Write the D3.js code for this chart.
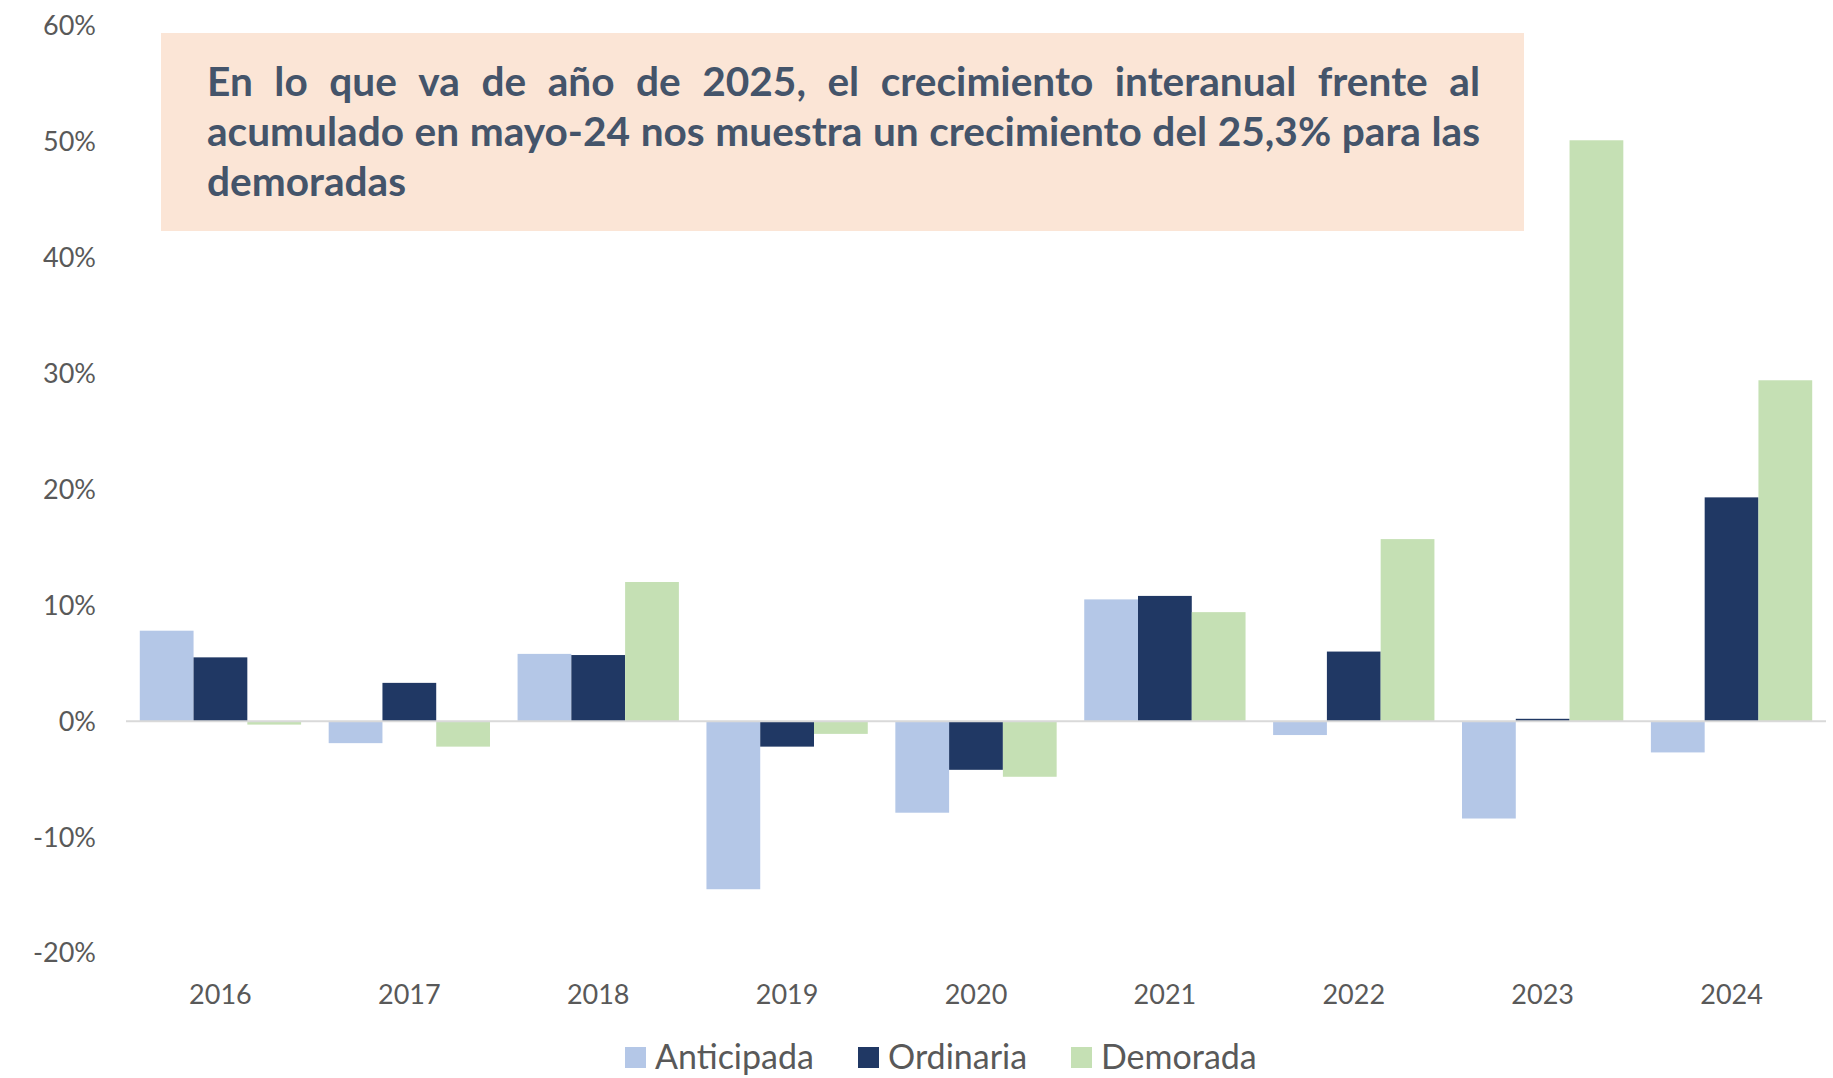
<!DOCTYPE html>
<html>
<head>
<meta charset="utf-8">
<script src="https://cdn.jsdelivr.net/npm/d3@7"></script>
<style>
  body { margin: 0; background: #fff; }
  text { font-family: Lato, 'Open Sans', sans-serif; }
</style>
</head>
<body>
<div id="chart"></div>
<script>
var years = ['2016', '2017', '2018', '2019', '2020', '2021', '2022', '2023', '2024']
var series = ['Anticipada', 'Ordinaria', 'Demorada']
var anticipada = [7.8, -1.9, 5.8, -14.5, -7.9, 10.5, -1.2, -8.4, -2.7]
var ordinaria = [5.5, 3.3, 5.7, -2.2, -4.2, 10.8, 6.0, 0.2, 19.3]
var demorada = [-0.3, -2.2, 12.0, -1.1, -4.8, 9.4, 15.7, 50.1, 29.4]
var yTicks = [-20, -10, 0, 10, 20, 30, 40, 50, 60]
var note = [
  'En lo que va de año de 2025, el crecimiento interanual frente al',
  'acumulado en mayo-24 nos muestra un crecimiento del 25,3% para las',
  'demoradas'
]

var colors = {Anticipada: '#b4c7e7', Ordinaria: '#203864', Demorada: '#c5e0b4'}
var values = {Anticipada: anticipada, Ordinaria: ordinaria, Demorada: demorada}

var width = 1833, height = 1078

var svg = d3.select('#chart').append('svg')
  .attr('width', width).attr('height', height)

var x = d3.scaleBand().domain(years).range([126, 1826])
  .paddingInner(0.146).paddingOuter(0.073)
var xs = d3.scaleBand().domain(series).range([0, x.bandwidth()])
var y = d3.scaleLinear().domain([-20, 60]).range([953, 25.5])

// bars
series.forEach(function(s){
  svg.append('g').selectAll('rect')
    .data(values[s])
    .join('rect')
    .attr('x', function(d, i){ return x(years[i]) + xs(s) })
    .attr('width', xs.bandwidth())
    .attr('y', function(d){ return y(Math.max(0, d)) })
    .attr('height', function(d){ return Math.abs(y(d) - y(0)) })
    .attr('fill', colors[s])
})

// zero line
svg.append('line')
  .attr('x1', x.range()[0]).attr('x2', x.range()[1])
  .attr('y1', y(0)).attr('y2', y(0))
  .attr('stroke', '#d9d9d9').attr('stroke-width', 2)

// y labels
svg.append('g').selectAll('text')
  .data(yTicks)
  .join('text')
  .attr('x', 96).attr('y', function(d){ return y(d) })
  .attr('dy', '0.35em')
  .attr('text-anchor', 'end')
  .attr('font-size', 27).attr('fill', '#595959')
  .text(function(d){ return d + '%' })

// x labels
svg.append('g').selectAll('text')
  .data(years)
  .join('text')
  .attr('x', function(d){ return x(d) + x.bandwidth() / 2 })
  .attr('y', 1004)
  .attr('text-anchor', 'middle')
  .attr('font-size', 27).attr('fill', '#595959')
  .text(function(d){ return d })

// legend
var legendX = [625, 858, 1071]
var leg = svg.append('g').selectAll('g')
  .data(series)
  .join('g')
  .attr('transform', function(d, i){ return 'translate(' + legendX[i] + ',1057)' })
leg.append('rect')
  .attr('x', 0).attr('y', -10).attr('width', 21).attr('height', 21)
  .attr('fill', function(d){ return colors[d] })
leg.append('text')
  .attr('x', 30).attr('y', 12)
  .attr('font-size', 34).attr('fill', '#595959')
  .text(function(d){ return d })

// annotation box
svg.append('rect')
  .attr('x', 161).attr('y', 33).attr('width', 1363).attr('height', 198)
  .attr('fill', '#fbe5d6')

// justified note; font size picked so the second line fits with normal spacing
var left = 207, right = 1480
var noteG = svg.append('g')
  .attr('font-size', 35).attr('font-weight', 'bold').attr('fill', '#44546a')
var probe = noteG.append('text').text(note[1].split(' ').join(''))
var nGaps = note[1].split(' ').length - 1
var fs = 35 * (right - left) / (probe.node().getComputedTextLength() + nGaps * 0.26 * 35)
probe.remove()
noteG.attr('font-size', fs)

note.forEach(function(line, li){
  var words = line.split(' ')
  var ty = 96 + li * 50
  var sel = noteG.selectAll(null)
    .data(words)
    .join('text')
    .attr('y', ty)
    .text(function(d){ return d })
  var widths = []
  sel.each(function(){ widths.push(this.getComputedTextLength()) })
  var gap = li < note.length - 1
    ? (right - left - d3.sum(widths)) / (words.length - 1)
    : fs * 0.26
  var cx = left
  sel.attr('x', function(d, i){ var p = cx; cx += widths[i] + gap; return p })
})
</script>
</body>
</html>
